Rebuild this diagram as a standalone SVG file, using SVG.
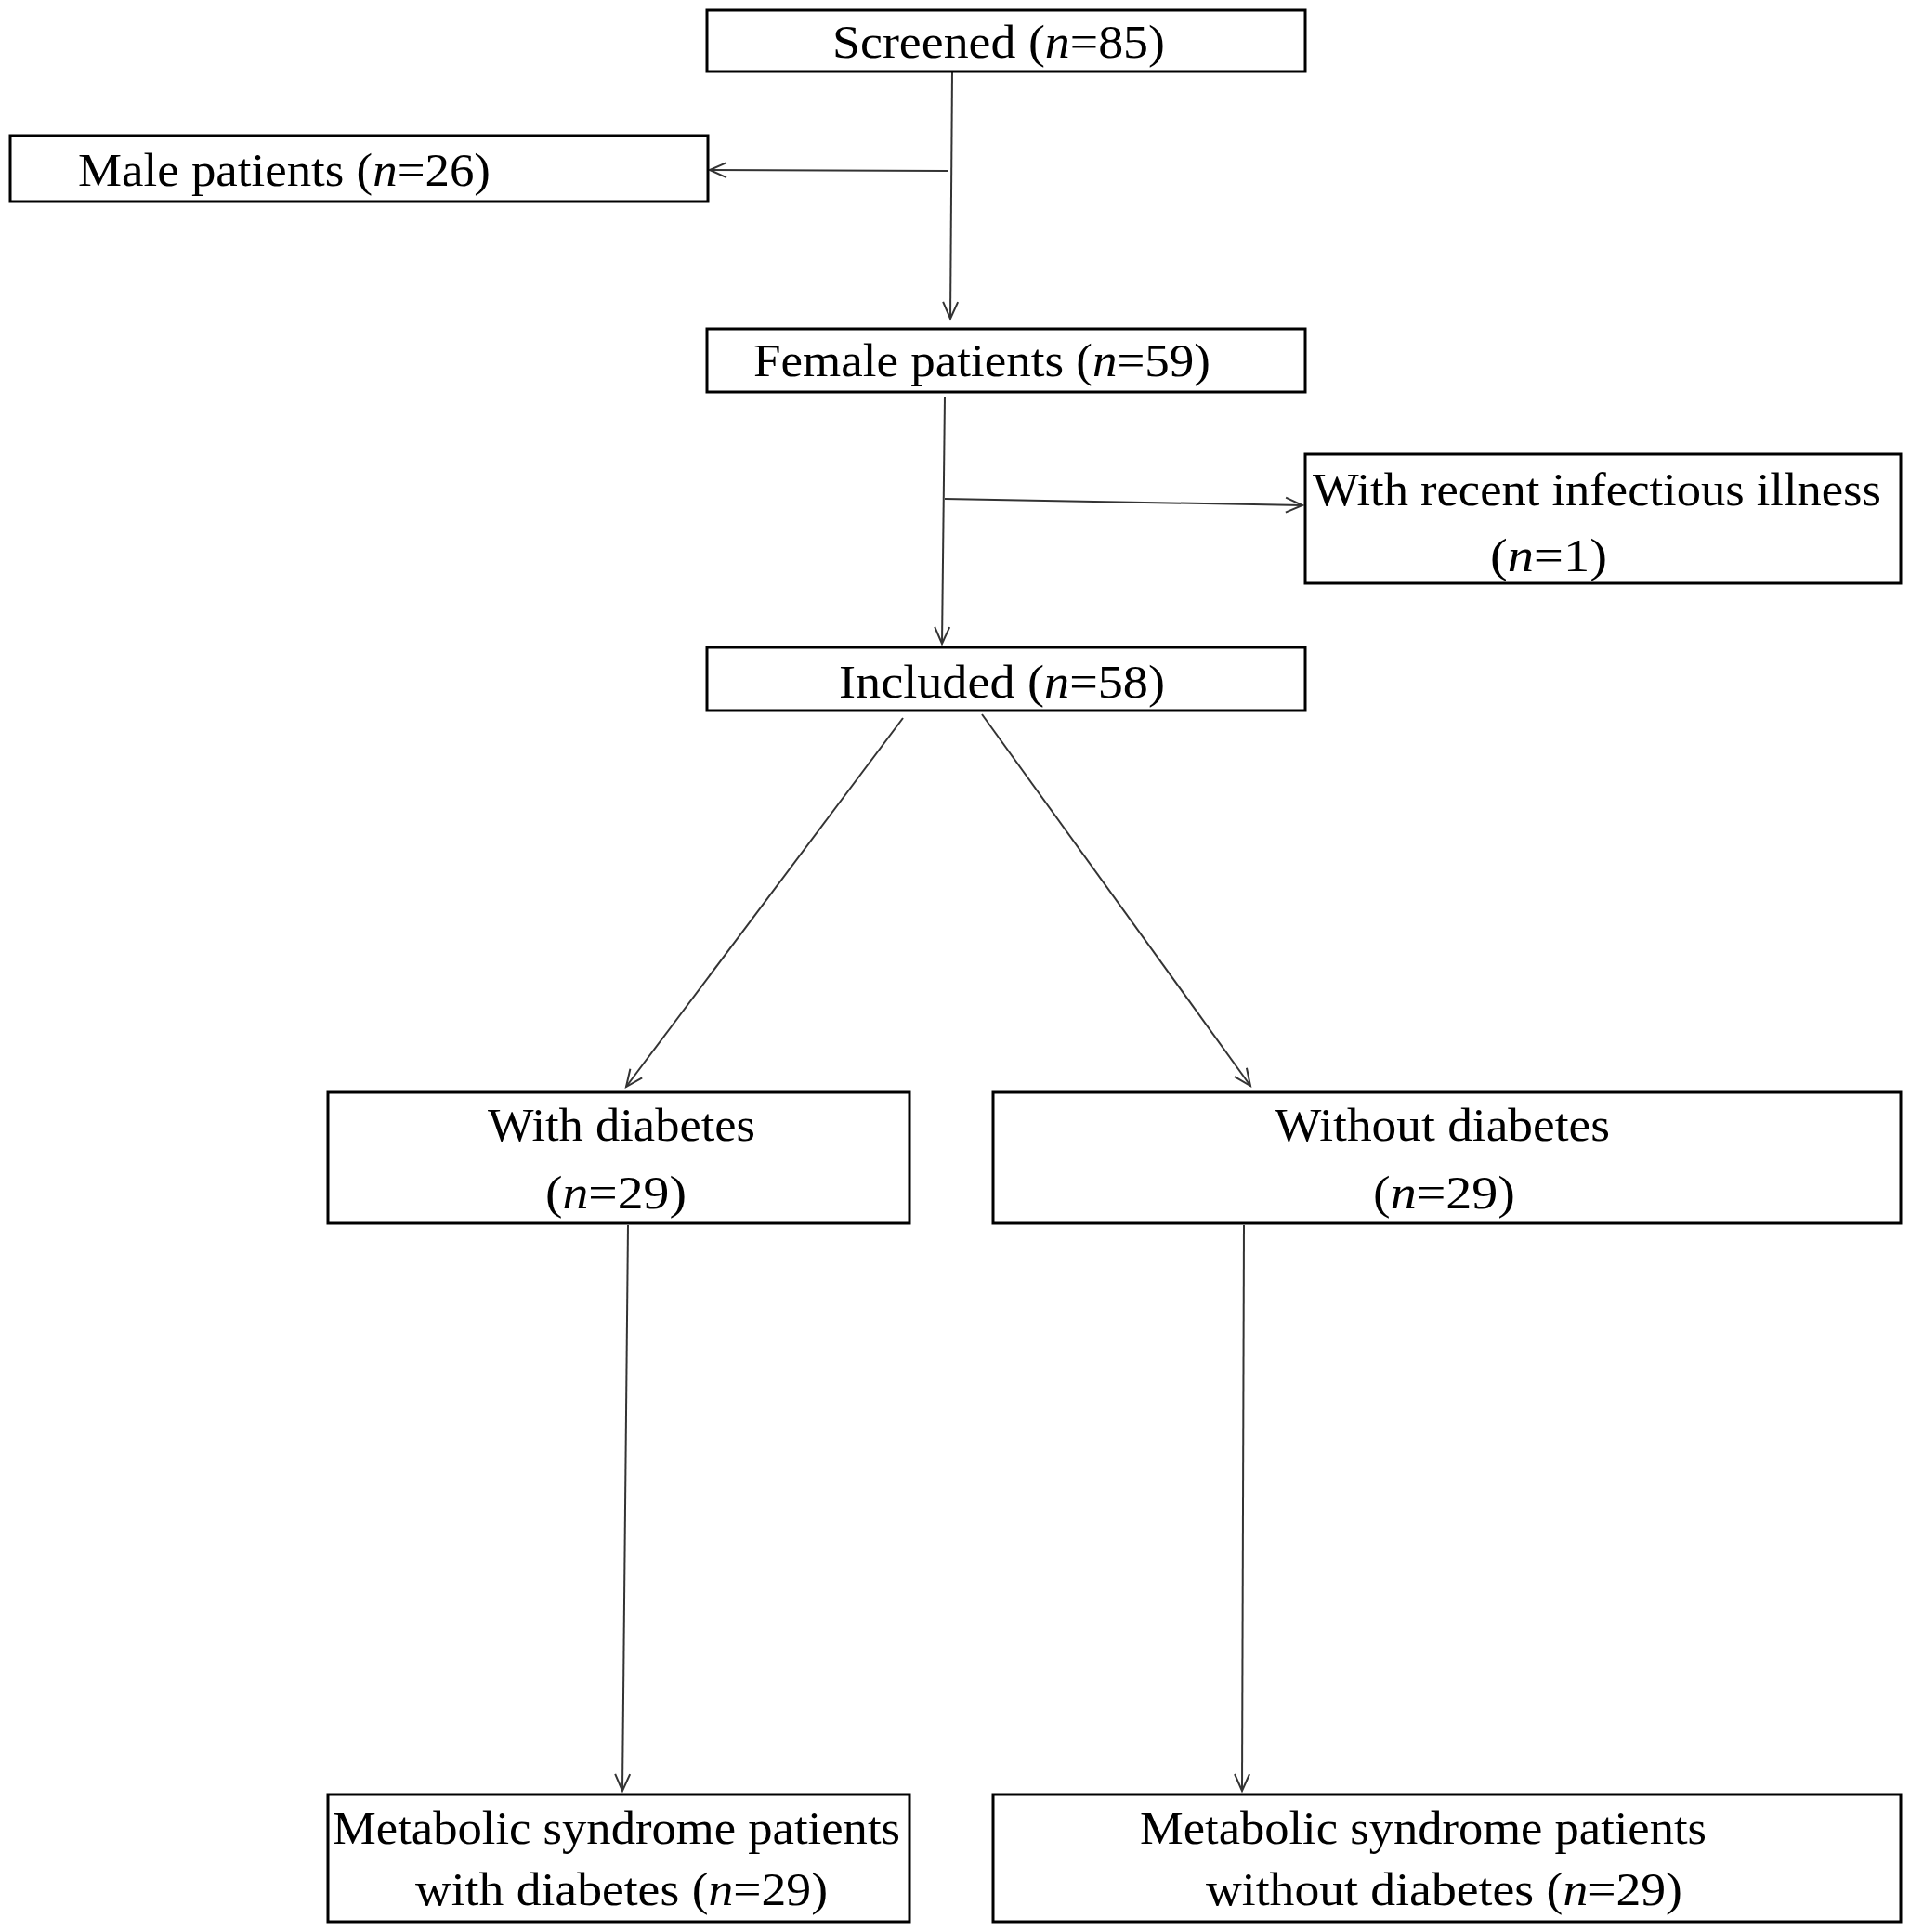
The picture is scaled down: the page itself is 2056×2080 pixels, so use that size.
<svg xmlns="http://www.w3.org/2000/svg" width="2056" height="2080" viewBox="0 0 2056 2080">
<style>
.box{fill:#fff;stroke:#000;stroke-width:3}
.t{font-family:"Liberation Serif","Times New Roman",serif;font-size:50px;fill:#000}
.i{font-style:italic}
.c{fill:none;stroke:#333;stroke-width:2}
</style>
<defs><marker id="a" markerWidth="24" markerHeight="24" refX="20" refY="10" orient="auto" markerUnits="userSpaceOnUse"><path d="M2,2 L20,10 L2,18" fill="none" stroke="#333" stroke-width="2"/></marker></defs>
<rect width="2056" height="2080" fill="#fff"/>
<g id="connectors">
<line class="c" x1="1025" y1="77" x2="1023" y2="343" marker-end="url(#a)"/>
<line class="c" x1="1021" y1="184" x2="764" y2="183" marker-end="url(#a)"/>
<line class="c" x1="1017" y1="427" x2="1014" y2="693" marker-end="url(#a)"/>
<line class="c" x1="1017" y1="537" x2="1402" y2="544" marker-end="url(#a)"/>
<line class="c" x1="972" y1="773" x2="674" y2="1170" marker-end="url(#a)"/>
<line class="c" x1="1057" y1="769" x2="1346" y2="1169" marker-end="url(#a)"/>
<line class="c" x1="676" y1="1319" x2="670" y2="1928" marker-end="url(#a)"/>
<line class="c" x1="1339" y1="1319" x2="1337" y2="1928" marker-end="url(#a)"/>
</g>
<g id="screened"><rect class="box" x="761" y="11" width="644" height="66"/><text class="t" x="896" y="62" textLength="358" lengthAdjust="spacingAndGlyphs">Screened (<tspan class="i">n</tspan>=85)</text></g>
<g id="male"><rect class="box" x="11" y="146" width="751" height="71"/><text class="t" x="84" y="200" textLength="444" lengthAdjust="spacingAndGlyphs">Male patients (<tspan class="i">n</tspan>=26)</text></g>
<g id="female"><rect class="box" x="761" y="354" width="644" height="68"/><text class="t" x="811" y="405" textLength="492" lengthAdjust="spacingAndGlyphs">Female patients (<tspan class="i">n</tspan>=59)</text></g>
<g id="infectious"><rect class="box" x="1405" y="489" width="641" height="139"/><text class="t" x="1413" y="544" textLength="612" lengthAdjust="spacingAndGlyphs">With recent infectious illness</text><text class="t" x="1604" y="615" textLength="126" lengthAdjust="spacingAndGlyphs">(<tspan class="i">n</tspan>=1)</text></g>
<g id="included"><rect class="box" x="761" y="697" width="644" height="68"/><text class="t" x="903" y="751" textLength="351" lengthAdjust="spacingAndGlyphs">Included (<tspan class="i">n</tspan>=58)</text></g>
<g id="with"><rect class="box" x="353" y="1176" width="626" height="141"/><text class="t" x="525" y="1228" textLength="288" lengthAdjust="spacingAndGlyphs">With diabetes</text><text class="t" x="587" y="1301" textLength="152" lengthAdjust="spacingAndGlyphs">(<tspan class="i">n</tspan>=29)</text></g>
<g id="without"><rect class="box" x="1069" y="1176" width="977" height="141"/><text class="t" x="1372" y="1228" textLength="361" lengthAdjust="spacingAndGlyphs">Without diabetes</text><text class="t" x="1478" y="1301" textLength="153" lengthAdjust="spacingAndGlyphs">(<tspan class="i">n</tspan>=29)</text></g>
<g id="ms-with"><rect class="box" x="353" y="1932" width="626" height="137"/><text class="t" x="358" y="1985" textLength="611" lengthAdjust="spacingAndGlyphs">Metabolic syndrome patients</text><text class="t" x="447" y="2051" textLength="444" lengthAdjust="spacingAndGlyphs">with diabetes (<tspan class="i">n</tspan>=29)</text></g>
<g id="ms-without"><rect class="box" x="1069" y="1932" width="977" height="137"/><text class="t" x="1227" y="1985" textLength="610" lengthAdjust="spacingAndGlyphs">Metabolic syndrome patients</text><text class="t" x="1298" y="2051" textLength="513" lengthAdjust="spacingAndGlyphs">without diabetes (<tspan class="i">n</tspan>=29)</text></g>
</svg>
